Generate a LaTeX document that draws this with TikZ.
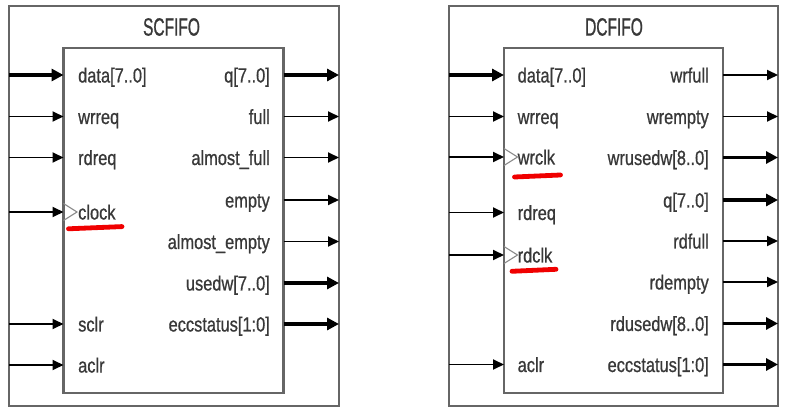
\documentclass[tikz,border=0pt]{standalone}
\usepackage{fontspec}
\setmainfont{Liberation Sans}[FakeStretch=0.8,FakeBold=0.7]
\newfontfamily\titlefont{Liberation Sans}[FakeStretch=0.62,FakeBold=0.8]
\usetikzlibrary{arrows.meta}
\definecolor{boxgray}{HTML}{666666}
\definecolor{txtgray}{HTML}{383838}
\definecolor{clkgray}{HTML}{8A8A8A}
\definecolor{mark}{HTML}{F00000}
\tikzset{
  blk/.style={draw=boxgray, line width=2.2pt},
  sig/.style={draw=black, line width=1.9pt, -{Triangle[length=11pt,width=10pt]}},
  bus/.style={draw=black, line width=3.8pt, -{Triangle[length=12pt,width=12pt]}},
  lbl/.style={inner sep=0pt, text=txtgray, font=\fontsize{20.5}{24}\selectfont},
  ttl/.style={inner sep=0pt, text=txtgray, font=\titlefont\fontsize{25}{28}\selectfont},
  clktri/.style={draw=clkgray, line width=1.1pt, line join=miter},
  uline/.style={draw=mark, line width=4.8pt, line cap=round}
}
\begin{document}
\begin{tikzpicture}[x=1pt,y=-1pt]
\useasboundingbox (0,0) rectangle (788,414);
\fill[white] (0,0) rectangle (788,414);

% ---------------- SCFIFO ----------------
\draw[blk] (9,6) rectangle (339,406);
\draw[blk] (63.5,48) rectangle (283.5,393);
\node[ttl] (sc-title) at (171.5,27) {SCFIFO};

\foreach \n/\t/\y/\s in {data/{data[7..0]}/75/bus, wrreq/wrreq/116.5/sig, rdreq/rdreq/157.5/sig, clock/clock/212/sig, sclr/sclr/324/sig, aclr/aclr/365/sig}{
  \coordinate (sc-in-\n) at (9,\y);
  \coordinate (sc-pin-\n) at (63.5,\y);
  \draw[\s] (sc-in-\n) -- (sc-pin-\n);
  \node[lbl, anchor=base west] (sc-lbl-\n) at (78,\y+7.5) {\t};
}
\foreach \n/\t/\y/\s in {q/{q[7..0]}/75/bus, full/full/116.5/sig, afull/almost\_full/157.5/sig, empty/empty/200/sig, aempty/almost\_empty/241.5/sig, usedw/{usedw[7..0]}/283/bus, ecc/{eccstatus[1:0]}/324/bus}{
  \coordinate (sc-pout-\n) at (283.5,\y);
  \coordinate (sc-out-\n) at (339,\y);
  \draw[\s] (sc-pout-\n) -- (sc-out-\n);
  \node[lbl, anchor=base east] (sc-lbl-\n) at (270,\y+7.5) {\t};
}
\draw[clktri] (63.5,203.5) -- (77,212) -- (63.5,220.5);
\coordinate (sc-u1) at (68.5,228.8);
\coordinate (sc-u2) at (122,226.6);
\draw[uline] (sc-u1) -- (sc-u2);

% ---------------- DCFIFO ----------------
\draw[blk] (449,6) rectangle (778,406);
\draw[blk] (504,48) rectangle (723.3,393);
\node[ttl] (dc-title) at (614,27) {DCFIFO};

\foreach \n/\t/\y/\s in {data/{data[7..0]}/75/bus, wrreq/wrreq/116.5/sig, wrclk/wrclk/157/sig, rdreq/rdreq/212.5/sig, rdclk/rdclk/255/sig, aclr/aclr/364.5/sig}{
  \coordinate (dc-in-\n) at (449,\y);
  \coordinate (dc-pin-\n) at (504,\y);
  \draw[\s] (dc-in-\n) -- (dc-pin-\n);
  \node[lbl, anchor=base west] (dc-lbl-\n) at (517.5,\y+7.5) {\t};
}
\foreach \n/\t/\y/\s in {wrfull/wrfull/75/sig, wrempty/wrempty/116.5/sig, wrusedw/{wrusedw[8..0]}/157.5/bus, q/{q[7..0]}/200/bus, rdfull/rdfull/241/sig, rdempty/rdempty/282/sig, rdusedw/{rdusedw[8..0]}/323.5/bus, ecc/{eccstatus[1:0]}/364.5/bus}{
  \coordinate (dc-pout-\n) at (723.3,\y);
  \coordinate (dc-out-\n) at (778,\y);
  \draw[\s] (dc-pout-\n) -- (dc-out-\n);
  \node[lbl, anchor=base east] (dc-lbl-\n) at (709,\y+7.5) {\t};
}
\draw[clktri] (504,148.5) -- (517.5,157) -- (504,165.5);
\draw[clktri] (504,246.5) -- (517.5,255) -- (504,263.5);
\coordinate (dc-u1) at (514.5,177);
\coordinate (dc-u2) at (560.5,175);
\draw[uline] (dc-u1) -- (dc-u2);
\coordinate (dc-u3) at (512,271.3);
\coordinate (dc-u4) at (556,269.3);
\draw[uline] (dc-u3) -- (dc-u4);
\end{tikzpicture}
\end{document}
